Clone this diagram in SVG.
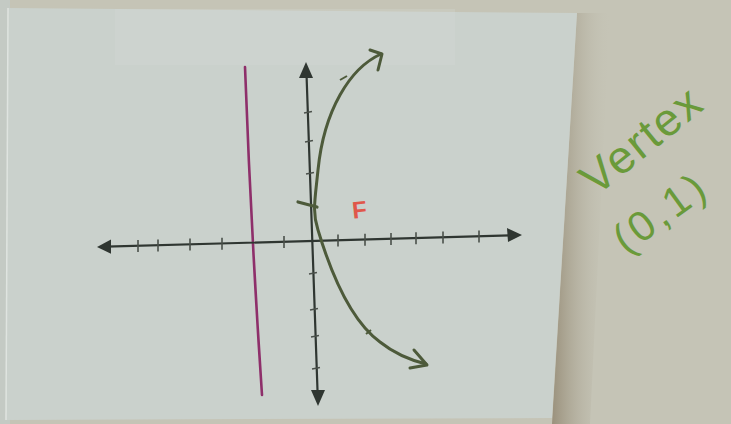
<svg xmlns="http://www.w3.org/2000/svg" width="731" height="424" viewBox="0 0 731 424">
  <defs>
    <linearGradient id="shadow" x1="0" y1="0" x2="1" y2="0">
      <stop offset="0" stop-color="#9a917c"/>
      <stop offset="1" stop-color="#c4c2b4" stop-opacity="0"/>
    </linearGradient>
    <style>
      .axis { stroke: #2f3631; stroke-width: 2.2; fill: none; stroke-linecap: round; }
      .tick { stroke: #4a504a; stroke-width: 1.6; fill: none; }
      .head { fill: #2f3631; }
      .curve { stroke: #4d5a3a; stroke-width: 3; fill: none; stroke-linecap: round; stroke-linejoin: round; }
      .note { font-family: "Liberation Sans", Arial, sans-serif; fill: #6a9a3a; }
    </style>
  </defs>

  <!-- wall background -->
  <rect x="0" y="0" width="731" height="424" fill="#c5c4b6"/>
  <rect x="0" y="0" width="10" height="424" fill="#c4cac4"/>
  <!-- shadow of the card -->
  <polygon points="577,13 610,13 590,424 552,424" fill="url(#shadow)"/>
  <!-- paper card -->
  <polygon points="8,8 577,13 552,418 6,420" fill="#cad1cc"/>
  <line x1="8" y1="8" x2="6" y2="420" stroke="#dfe4e0" stroke-width="1.5"/>
  <!-- faint tape -->
  <rect x="115" y="9" width="340" height="56" fill="#d6dbd6" opacity="0.25"/>

  <!-- directrix -->
  <g id="directrix">
    <path d="M245,67 Q251,230 262,395" stroke="#8e2f6a" stroke-width="2.6" fill="none" stroke-linecap="round"/>
  </g>

  <!-- x axis -->
  <g id="x-axis">
    <line class="axis" x1="106" y1="246.7" x2="512" y2="235.3"/>
    <polygon class="head" points="97,247 111,239.5 111,253.8"/>
    <polygon class="head" points="522,235 507,228 508,242"/>
    <g class="tick">
      <line x1="138" y1="240" x2="138" y2="252"/>
      <line x1="158" y1="239.5" x2="158" y2="251.5"/>
      <line x1="190" y1="238.6" x2="190" y2="250.6"/>
      <line x1="222" y1="237.7" x2="222" y2="249.7"/>
      <line x1="284" y1="236" x2="284" y2="248"/>
      <line x1="338" y1="234.4" x2="338" y2="246.4"/>
      <line x1="365" y1="233.7" x2="365" y2="245.7"/>
      <line x1="391" y1="233" x2="391" y2="245"/>
      <line x1="416" y1="232.3" x2="416" y2="244.3"/>
      <line x1="443" y1="231.5" x2="443" y2="243.5"/>
      <line x1="479" y1="230.5" x2="479" y2="242.5"/>
    </g>
  </g>

  <!-- y axis -->
  <g id="y-axis">
    <line class="axis" x1="306.5" y1="74" x2="317.6" y2="393"/>
    <polygon class="head" points="306,62 299,78 313,78"/>
    <polygon class="head" points="318,406 311,390 325,390"/>
    <g class="tick">
      <line x1="304" y1="113" x2="312" y2="111.5"/>
      <line x1="305" y1="142" x2="313" y2="140.5"/>
      <line x1="306" y1="174" x2="314" y2="172.5"/>
      <line x1="309" y1="274" x2="317" y2="272.5"/>
      <line x1="310" y1="310" x2="318" y2="308.5"/>
      <line x1="311" y1="337" x2="319" y2="335.5"/>
      <line x1="312" y1="369" x2="320" y2="367.5"/>
    </g>
  </g>

  <!-- parabola -->
  <g id="parabola">
    <path class="curve" d="M381,54 C350,68 324,110 318,170 C315,200 312,212 318,230 C330,270 350,320 380,342 C395,354 410,360 426,364"/>
    <path class="curve" d="M370,50 L382,54 L378,70"/>
    <path class="curve" d="M414,350 L427,365 L410,368"/>
    <line x1="298" y1="202" x2="317" y2="207" stroke="#4d5a3a" stroke-width="3.2" stroke-linecap="round"/>
    <line x1="340" y1="80" x2="347" y2="76" stroke="#4d5a3a" stroke-width="2"/>
    <line x1="366" y1="334" x2="371" y2="330" stroke="#4d5a3a" stroke-width="2"/>
  </g>

  <!-- focus -->
  <g id="focus">
    <text x="352" y="218" font-family="'Liberation Sans', Arial, sans-serif" font-weight="bold" font-size="24" fill="#e0574a" transform="rotate(-6 359 208)">F</text>
  </g>

  <!-- vertex note -->
  <g id="vertex-note">
    <text class="note" x="596" y="197" font-size="46" letter-spacing="2" transform="rotate(-39 596 197)">Vertex</text>
    <text class="note" x="626" y="255" font-size="42" letter-spacing="4" transform="rotate(-36 626 255)">(0,1)</text>
  </g>
</svg>
